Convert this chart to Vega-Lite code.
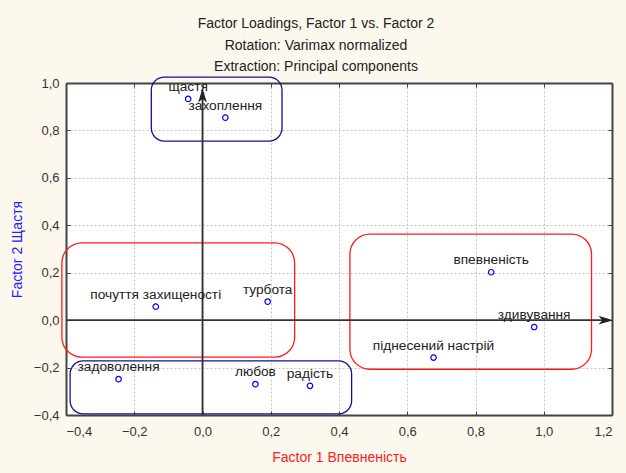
{
  "$schema": "https://vega.github.io/schema/vega-lite/v6.json",
  "width": 546,
  "height": 332,
  "autosize": "none",
  "padding": {"left": 66, "top": 83, "right": 14, "bottom": 58},
  "background": "#fdf8ee",
  "title": {
    "text": ["Factor Loadings, Factor 1 vs. Factor 2", "Rotation: Varimax normalized", "Extraction: Principal components"],
    "font": "Liberation Sans",
    "fontSize": 14,
    "fontWeight": "normal",
    "color": "#222222",
    "lineHeight": 21.5,
    "anchor": "middle",
    "offset": 2,
    "dx": -23
  },
  "config": {
    "view": {"fill": "white", "stroke": null},
    "axis": {
      "labelFont": "Liberation Sans",
      "labelFontSize": 13,
      "labelColor": "#333333",
      "titleFont": "Liberation Sans",
      "titleFontSize": 14,
      "titleFontWeight": "normal",
      "domainColor": "#444444",
      "domainWidth": 2,
      "tickColor": "#444444",
      "tickSize": -4,
      "gridColor": "#c4c4c4",
      "gridDash": [2, 2],
      "gridWidth": 1
    }
  },
  "datasets": {
    "pts": [
      {"name": "щастя", "f1": -0.042, "f2": 0.933},
      {"name": "захоплення", "f1": 0.067, "f2": 0.854},
      {"name": "впевненість", "f1": 0.846, "f2": 0.202},
      {"name": "здивування", "f1": 0.972, "f2": -0.029},
      {"name": "піднесений настрій", "f1": 0.677, "f2": -0.158},
      {"name": "почуття захищеності", "f1": -0.137, "f2": 0.057},
      {"name": "турбота", "f1": 0.191, "f2": 0.078},
      {"name": "задоволення", "f1": -0.246, "f2": -0.249},
      {"name": "любов", "f1": 0.155, "f2": -0.27},
      {"name": "радість", "f1": 0.315, "f2": -0.277}
    ],
    "redBoxes": [
      {"x1": -0.412, "x2": 0.27, "y1": -0.156, "y2": 0.326},
      {"x1": 0.432, "x2": 1.14, "y1": -0.207, "y2": 0.363}
    ],
    "blueBoxes": [
      {"x1": -0.15, "x2": 0.233, "y1": 0.755, "y2": 1.025},
      {"x1": -0.388, "x2": 0.437, "y1": -0.395, "y2": -0.172}
    ],
    "vAxis": [{"x": 0, "y1": -0.4, "y2": 0.96}],
    "hAxis": [{"y": 0, "x1": -0.4, "x2": 1.19}],
    "heads": [
      {"dir": "up", "x": 0, "y": 0.945},
      {"dir": "right", "x": 1.18, "y": 0}
    ]
  },
  "resolve": {"axis": {"x": "independent", "y": "independent"}},
  "layer": [
    {
      "data": {"name": "pts"},
      "mark": {"type": "point", "opacity": 0},
      "encoding": {
        "x": {
          "field": "f1", "type": "quantitative",
          "scale": {"domain": [-0.4, 1.2], "nice": false, "zero": false},
          "axis": {
            "orient": "bottom",
            "values": [-0.4, -0.2, 0, 0.2, 0.4, 0.6, 0.8, 1.0, 1.2],
            "labelExpr": "replace(format(datum.value, '.1f'), '.', ',')",
            "labelPadding": 14,
            "title": "Factor 1 Впевненість",
            "titleColor": "#ff2020",
            "titlePadding": 12,
            "grid": true
          }
        },
        "y": {
          "field": "f2", "type": "quantitative",
          "scale": {"domain": [-0.4, 1.0], "nice": false, "zero": false},
          "axis": {
            "orient": "left",
            "values": [-0.4, -0.2, 0, 0.2, 0.4, 0.6, 0.8, 1.0],
            "labelExpr": "replace(format(datum.value, '.1f'), '.', ',')",
            "labelPadding": 11,
            "title": "Factor 2 Щастя",
            "titleColor": "#2020ff",
            "titlePadding": 9,
            "grid": true
          }
        }
      }
    },
    {
      "data": {"name": "pts"},
      "mark": {"type": "point", "opacity": 0},
      "encoding": {
        "x": {
          "field": "f1", "type": "quantitative",
          "scale": {"domain": [-0.4, 1.2], "nice": false, "zero": false},
          "axis": {"orient": "top", "values": [-0.4, -0.2, 0, 0.2, 0.4, 0.6, 0.8, 1.0, 1.2], "labels": false, "title": null, "grid": false}
        },
        "y": {
          "field": "f2", "type": "quantitative",
          "scale": {"domain": [-0.4, 1.0], "nice": false, "zero": false},
          "axis": {"orient": "right", "values": [-0.4, -0.2, 0, 0.2, 0.4, 0.6, 0.8, 1.0], "labels": false, "title": null, "grid": false}
        }
      }
    },
    {
      "data": {"name": "redBoxes"},
      "mark": {"type": "rect", "fill": null, "fillOpacity": 0, "stroke": "#ff1a1a", "strokeWidth": 1.3, "cornerRadius": 20, "clip": false},
      "encoding": {
        "x": {"field": "x1", "type": "quantitative", "axis": null},
        "x2": {"field": "x2"},
        "y": {"field": "y1", "type": "quantitative", "axis": null},
        "y2": {"field": "y2"}
      }
    },
    {
      "data": {"name": "blueBoxes"},
      "mark": {"type": "rect", "fill": null, "fillOpacity": 0, "stroke": "#10109a", "strokeWidth": 1.3, "cornerRadius": 13, "clip": false},
      "encoding": {
        "x": {"field": "x1", "type": "quantitative", "axis": null},
        "x2": {"field": "x2"},
        "y": {"field": "y1", "type": "quantitative", "axis": null},
        "y2": {"field": "y2"}
      }
    },
    {
      "data": {"name": "vAxis"},
      "mark": {"type": "rule", "color": "#333333", "strokeWidth": 1.8},
      "encoding": {
        "x": {"field": "x", "type": "quantitative", "axis": null},
        "y": {"field": "y1", "type": "quantitative", "axis": null},
        "y2": {"field": "y2"}
      }
    },
    {
      "data": {"name": "hAxis"},
      "mark": {"type": "rule", "color": "#333333", "strokeWidth": 1.8},
      "encoding": {
        "y": {"field": "y", "type": "quantitative", "axis": null},
        "x": {"field": "x1", "type": "quantitative", "axis": null},
        "x2": {"field": "x2"}
      }
    },
    {
      "data": {"name": "heads"},
      "transform": [{"filter": "datum.dir == 'up'"}],
      "mark": {"type": "point", "filled": true, "color": "#222222", "opacity": 1, "size": 256, "shape": "M0,-1L0.55,0.85L0,0.35L-0.55,0.85Z"},
      "encoding": {
        "x": {"field": "x", "type": "quantitative", "axis": null},
        "y": {"field": "y", "type": "quantitative", "axis": null}
      }
    },
    {
      "data": {"name": "heads"},
      "transform": [{"filter": "datum.dir == 'right'"}],
      "mark": {"type": "point", "filled": true, "color": "#222222", "opacity": 1, "size": 256, "shape": "M1,0L-0.85,0.55L-0.35,0L-0.85,-0.55Z"},
      "encoding": {
        "x": {"field": "x", "type": "quantitative", "axis": null},
        "y": {"field": "y", "type": "quantitative", "axis": null}
      }
    },
    {
      "data": {"name": "pts"},
      "mark": {"type": "point", "shape": "circle", "filled": false, "color": "#0000ff", "size": 30, "strokeWidth": 1.2, "opacity": 1},
      "encoding": {
        "x": {"field": "f1", "type": "quantitative", "axis": null},
        "y": {"field": "f2", "type": "quantitative", "axis": null}
      }
    },
    {
      "data": {"name": "pts"},
      "mark": {"type": "text", "font": "Liberation Sans", "fontSize": 13.7, "color": "#222222", "align": "center", "baseline": "alphabetic", "dy": -8},
      "encoding": {
        "x": {"field": "f1", "type": "quantitative", "axis": null},
        "y": {"field": "f2", "type": "quantitative", "axis": null},
        "text": {"field": "name"}
      }
    }
  ]
}
